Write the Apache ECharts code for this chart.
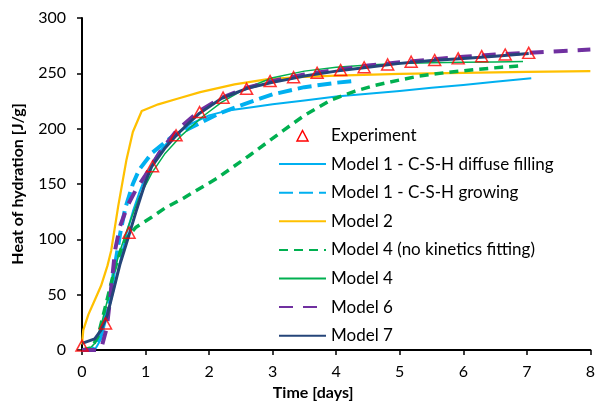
<!DOCTYPE html>
<html>
<head>
<meta charset="utf-8">
<script src="https://cdn.jsdelivr.net/npm/echarts@6/dist/echarts.min.js"></script>
<style>html,body{margin:0;padding:0;background:#fff}#c{width:598px;height:406px}</style>
</head>
<body>
<div id="c"></div>
<script>
const xTicks = [0, 1, 2, 3, 4, 5, 6, 7, 8];
const yTicks = [0, 50, 100, 150, 200, 250, 300];

const experiment = [[0,4],[0.37,24],[0.74,106],[1.11,166],[1.48,194],[1.85,215],[2.22,228],[2.59,236],[2.96,243],[3.33,246.5],[3.70,250.5],[4.07,253],[4.44,255.5],[4.81,258],[5.18,260.5],[5.55,262],[5.92,263.5],[6.29,265.5],[6.66,267],[7.03,268.5]];

const model1Diffuse = [[0,0],[0.2,0],[0.3,10],[0.4,32],[0.5,55],[0.6,80],[0.7,105],[0.8,125],[0.9,142],[1,157],[1.2,178],[1.4,191],[1.7,204],[2,212],[2.3,216.5],[2.7,219.5],[3,222],[3.5,225.5],[4,229],[4.5,231.5],[5,234],[5.5,237],[6,239.5],[6.5,242.5],[7.07,245.5]];

const model1Growing = [[0,0],[0.17,0],[0.3,15],[0.44,45],[0.5,70],[0.6,105],[0.68,128],[0.8,150],[0.9,163],[1.1,178],[1.4,192],[1.75,202],[2.17,214],[2.5,221],[2.74,226],[3,231],[3.5,237.5],[4,241.5],[4.26,243]];

const model2 = [[0,5],[0.02,18],[0.1,32],[0.2,45],[0.3,58],[0.4,76],[0.46,90],[0.57,130],[0.7,172],[0.8,197],[0.94,216],[1.2,222],[1.5,227],[1.86,233],[2.4,240],[2.9,244.5],[3.4,246.5],[4,248],[5,249.5],[6,250.5],[7,251.3],[8,252]];

const model4NoFit = [[0,0],[0.15,2],[0.25,12],[0.35,35],[0.5,70],[0.62,92],[0.73,103],[0.85,111],[1.07,119],[1.3,128],[1.59,137],[2.12,155],[2.64,176],[3.16,198],[3.5,212],[3.92,226],[4.3,234],[4.6,239],[5,244],[5.3,247.5],[5.7,250.5],[6.2,253.5],[6.6,255.5],[6.94,257]];

const model4 = [[0,0],[0.1,0],[0.2,6],[0.3,22],[0.4,45],[0.5,70],[0.6,90],[0.73,112],[0.9,138],[1.1,160],[1.3,177],[1.55,193],[1.9,211],[2.2,224],[2.6,237],[3,246],[3.5,252],[4,255.5],[4.5,257.5],[5,258.8],[5.5,259.5],[6,260],[6.5,260.3],[6.94,260.6]];

const model6 = [[0,0],[0.28,0],[0.32,5],[0.39,20],[0.45,50],[0.52,90],[0.6,112],[0.73,132],[0.85,145],[1,158],[1.25,181],[1.5,199],[1.85,216],[2.2,228],[2.6,237],[3,243],[3.5,249],[4,253],[4.5,257],[5,260],[5.5,262.5],[6,265],[6.5,267],[7,268.5],[7.5,270],[8,271.5]];

const model7 = [[0,6],[0.1,8],[0.2,10],[0.3,18],[0.4,32],[0.5,55],[0.6,78],[0.73,102],[0.85,125],[1,152],[1.1,166],[1.3,182],[1.5,195],[1.7,206],[1.85,214],[2.2,227.5],[2.6,236.5],[3,242],[3.5,247.5],[4,252],[4.5,255.5],[5,259],[5.5,261.5],[6,263.5],[6.5,265.5],[7.03,268]];

const names = ['Experiment','Model 1 - C-S-H diffuse filling','Model 1 - C-S-H growing','Model 2','Model 4 (no kinetics fitting)','Model 4','Model 6','Model 7'];

const FONT = 'Lato';
function line(name, data, color, width, dash, z) {
  return {
    name: name, type: 'line', data: data, symbol: 'none', smooth: false,
    lineStyle: {color: color, width: width, type: dash || 'solid', cap: 'butt', join: 'round'},
    itemStyle: {color: color}, z: z || 2, animation: false
  };
}

const chart = echarts.init(document.getElementById('c'), null, {renderer: 'canvas'});
chart.setOption({
  backgroundColor: '#ffffff',
  animation: false,
  grid: {left: 82, right: 6, top: 18, bottom: 56, containLabel: false},
  xAxis: {
    type: 'value', min: xTicks[0], max: xTicks[xTicks.length-1], interval: 1,
    name: 'Time [days]', nameLocation: 'middle', nameGap: 32,
    nameTextStyle: {fontFamily: FONT, fontSize: 16, fontWeight: 'bold', color: '#000', padding: [0, 46, 0, 0]},
    axisLine: {lineStyle: {color: '#000', width: 2}},
    axisTick: {show: true, inside: false, length: 5, lineStyle: {color: '#000', width: 1.5}},
    axisLabel: {fontFamily: FONT, fontSize: 16, color: '#000', margin: 14},
    splitLine: {show: false}
  },
  yAxis: {
    type: 'value', min: yTicks[0], max: yTicks[yTicks.length-1], interval: 50,
    name: 'Heat of hydration [J/g]', nameLocation: 'middle', nameGap: 56,
    nameTextStyle: {fontFamily: FONT, fontSize: 16, fontWeight: 'bold', color: '#000'},
    axisLine: {show: true, lineStyle: {color: '#000', width: 2}},
    axisTick: {show: true, inside: false, length: 5, lineStyle: {color: '#000', width: 1.5}},
    axisLabel: {fontFamily: FONT, fontSize: 16, color: '#000', margin: 16},
    splitLine: {show: false}
  },
  legend: {
    orient: 'vertical', left: 278, top: 127, itemWidth: 47, itemHeight: 14, itemGap: 11.6, padding: 0,
    itemStyle: {opacity: 0},
    textStyle: {fontFamily: FONT, fontSize: 17, color: '#000'},
    data: [
      {name: names[0], icon: 'path://M0,0M47,14M18,12.5L23.5,2L29,12.5Z', itemStyle: {opacity: 1, color: 'rgba(255,255,255,0)', borderColor: '#FF0000', borderWidth: 1.5}},
      names[1], names[2], names[3], names[4], names[5], names[6], names[7]
    ]
  },
  series: [
    line(names[1], model1Diffuse, '#00B0F0', 2),
    line(names[2], model1Growing, '#00B0F0', 4, [14, 6]),
    line(names[3], model2, '#FFC000', 2.25),
    line(names[4], model4NoFit, '#00B050', 3.5, [9, 6]),
    line(names[5], model4, '#00B050', 1.5),
    line(names[6], model6, '#7030A0', 4, [14, 10]),
    line(names[7], model7, '#254579', 3),
    {
      name: names[0], type: 'scatter', data: experiment, symbol: 'triangle', symbolSize: [12, 11],
      itemStyle: {color: 'rgba(255,255,255,0)', borderColor: '#FF0000', borderWidth: 1.5}, z: 5, animation: false
    }
  ]
});
</script>
</body>
</html>
